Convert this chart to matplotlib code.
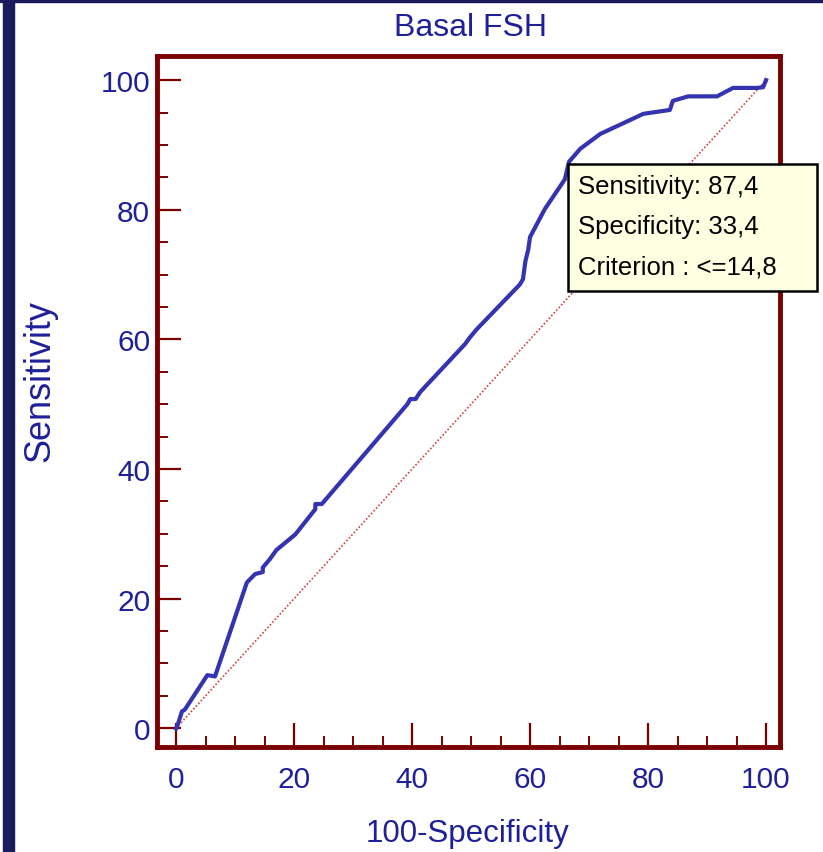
import matplotlib
matplotlib.use("Agg")
import matplotlib.pyplot as plt
from matplotlib.ticker import MultipleLocator
from matplotlib.patches import Rectangle

plt.rcParams['font.family'] = ['Liberation Sans', 'DejaVu Sans']

# ROC curve points
fpr = [0, 0.3, 1.0, 1.5, 5.3, 6.6, 12.0, 13.4, 14.7, 14.7, 15.9, 17.0, 20.2,
       23.6, 23.6, 24.7, 39.2, 39.7, 40.6, 41.4, 49.0, 49.8, 51.0, 58.3, 58.8,
       59.2, 59.7, 60.0, 62.5, 65.9, 66.6, 68.5, 71.9, 79.2, 83.7, 84.2, 86.8,
       91.7, 94.4, 98.5, 99.5, 100]
tpr = [0, 0.6, 2.6, 2.9, 8.2, 8.0, 22.5, 23.8, 24.1, 24.8, 26.1, 27.5, 29.9,
       33.8, 34.6, 34.6, 50.0, 50.8, 50.8, 51.9, 59.3, 60.3, 61.6, 68.5, 69.3,
       72.0, 73.9, 75.8, 80.1, 84.7, 87.4, 89.4, 91.7, 94.8, 95.4, 96.8, 97.5,
       97.5, 98.8, 98.8, 98.9, 100]
diag = [0, 100]
title = "Basal FSH"
xlabel = "100-Specificity"
ylabel = "Sensitivity"
tip_lines = ["Sensitivity: 87,4", "Specificity: 33,4", "Criterion : <=14,8"]

navy = '#1f1f9a'
maroon = '#7a0000'

fig = plt.figure(figsize=(8.23, 8.53), dpi=100)
fig.patch.set_facecolor('white')

# dark border strips
fig.add_artist(Rectangle((0.004, 0), 0.013, 1, transform=fig.transFigure,
                         color='#1a1a5e', zorder=0))
fig.add_artist(Rectangle((0, 0.996), 1, 0.004, transform=fig.transFigure,
                         color='#1a1a5e', zorder=0))

ax = fig.add_axes([0.191, 0.123, 0.757, 0.81])
ax.plot(diag, diag, color='#d04040', lw=1.2, ls=(0, (1, 1.2)), zorder=2)
ax.plot(fpr, tpr, color='#3434b0', lw=3, solid_joinstyle='round', zorder=3)

ax.set_xlim(-3.2, 102.4)
ax.set_ylim(-2.9, 103.7)
ax.xaxis.set_major_locator(MultipleLocator(20))
ax.xaxis.set_minor_locator(MultipleLocator(5))
ax.yaxis.set_major_locator(MultipleLocator(20))
ax.yaxis.set_minor_locator(MultipleLocator(5))
ax.tick_params(which='major', direction='in', length=17, width=1.6,
               color=maroon, labelcolor=navy, labelsize=21.5)
ax.tick_params(which='minor', direction='in', length=8, width=1.4, color=maroon)
ax.tick_params(axis='x', which='major', pad=13)
ax.tick_params(axis='y', which='major', pad=5)
for s in ax.spines.values():
    s.set_color(maroon)
    s.set_linewidth(3.5)

fig.text(0.572, 0.967, title, color=navy, fontsize=23, ha='center', va='center')
fig.text(0.568, 0.022, xlabel, color=navy, fontsize=22.5, ha='center', va='center')
fig.text(0.048, 0.553, ylabel, color=navy, fontsize=26, ha='center', va='center',
         rotation=90)

# tooltip box
fig.add_artist(Rectangle((568 / 823, 1 - 292 / 853), 249 / 823, 127 / 853,
                         transform=fig.transFigure, facecolor='#ffffe1',
                         edgecolor='black', lw=1.8, zorder=5))
for i, line in enumerate(tip_lines):
    fig.text(578 / 823, 1 - (187 + 40.5 * i) / 853, line, color='black',
             fontsize=18.5, ha='left', va='center', zorder=6)

fig.savefig('out.png', dpi=100)
